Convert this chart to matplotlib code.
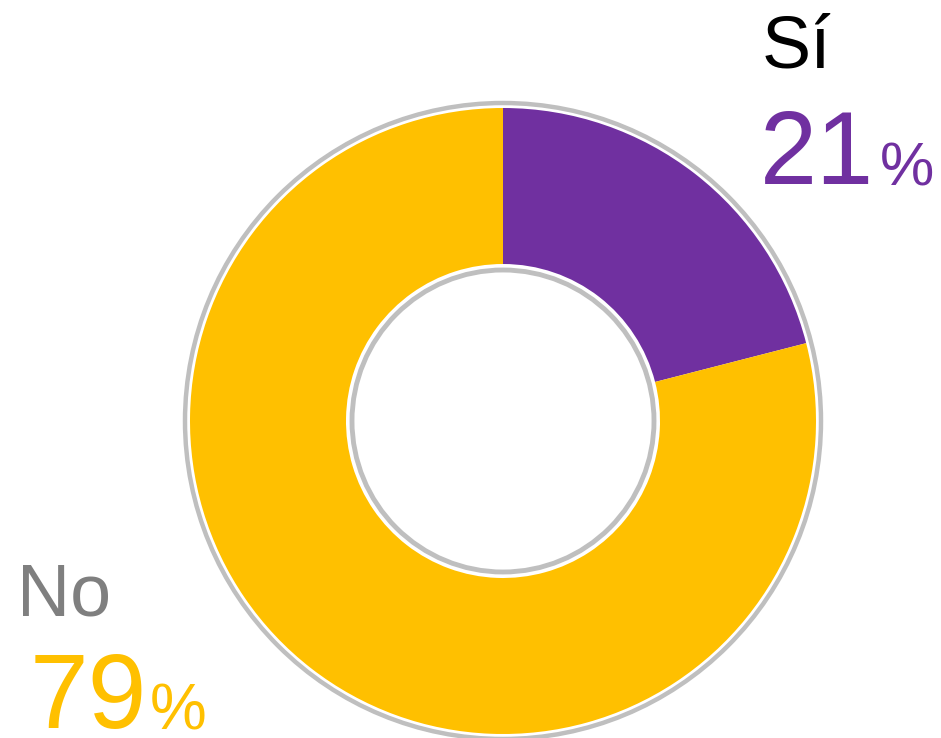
import matplotlib as mpl
mpl.use('Agg')
import matplotlib.pyplot as plt
from matplotlib.patches import Circle

plt.rcParams['font.family'] = ['Liberation Sans', 'DejaVu Sans']

# datos
labels = ['Sí', 'No']
values = [21, 79]
colors = ['#7030A0', '#FFC000']
label_colors = ['#000000', '#7F7F7F']

fig = plt.figure(figsize=(9.41, 7.38), dpi=100)
ax = fig.add_axes([0, 0, 1, 1])

cx, cy = 503, 317
r_out, r_in = 313, 157

ax.pie(values, colors=colors, startangle=90, counterclock=False,
       center=(cx, cy), radius=r_out,
       wedgeprops=dict(width=r_out - r_in, edgecolor='none'))

# anillos grises
ax.add_patch(Circle((cx, cy), 318, fill=False, ec='#BFBFBF', lw=3.2))
ax.add_patch(Circle((cx, cy), 151, fill=False, ec='#BFBFBF', lw=3.5))

ax.set_xlim(0, 941)
ax.set_ylim(0, 738)
ax.set_aspect('equal')
ax.axis('off')

# etiquetas
ax.text(762, 738 - 68, labels[0], fontsize=53, color=label_colors[0], va='baseline')
ax.text(760, 738 - 184, f'{values[0]}', fontsize=74, color=colors[0], va='baseline')
ax.text(880, 738 - 185, '%', fontsize=44, color=colors[0], va='baseline')

ax.text(17, 738 - 615, labels[1], fontsize=53, color=label_colors[1], va='baseline')
ax.text(30, 738 - 728, f'{values[1]}', fontsize=76, color=colors[1], va='baseline')
ax.text(150, 738 - 729, '%', fontsize=46, color=colors[1], va='baseline')

plt.savefig('out.png', dpi=100)
plt.close()
